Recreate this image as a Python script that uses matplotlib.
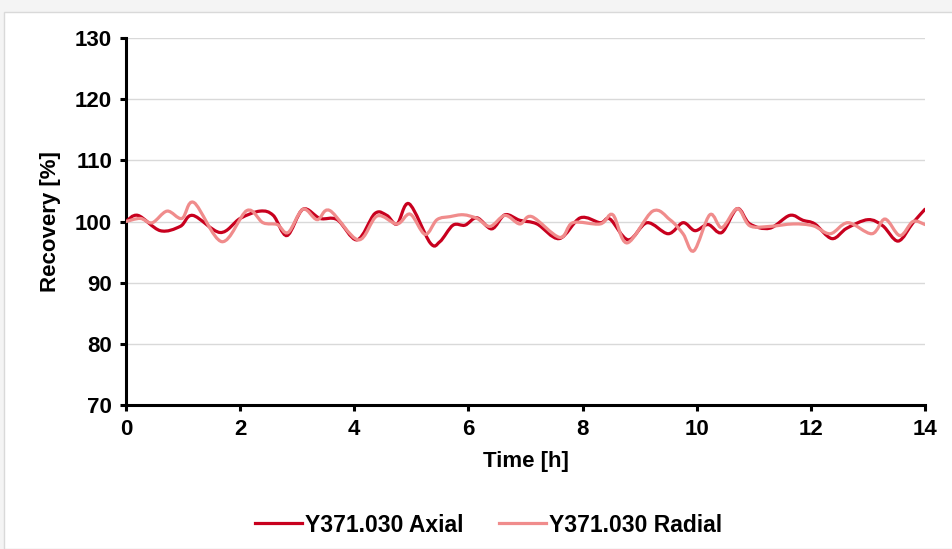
import numpy as np
import matplotlib.pyplot as plt
from matplotlib.path import Path
from matplotlib.patches import PathPatch, Rectangle
from matplotlib.lines import Line2D

plt.rcParams['font.family'] = ['Liberation Sans', 'DejaVu Sans']
plt.rcParams['font.weight'] = 'bold'

# values (time in h, recovery in %)
axial_t = [0, 0.21, 0.60, 0.95, 1.17, 1.65, 2.00, 2.35, 2.58, 2.82, 3.10, 3.40, 3.70,
           4.05, 4.36, 4.57, 4.75, 4.96, 5.33, 5.50, 5.73, 5.94, 6.15, 6.41, 6.64,
           6.90, 7.20, 7.59, 7.96, 8.31, 8.48, 8.80, 9.13, 9.50, 9.76, 9.97, 10.20,
           10.44, 10.71, 10.93, 11.28, 11.63, 11.86, 12.07, 12.37, 12.63, 13.00,
           13.26, 13.53, 13.79, 14.0]
axial_v = [100.0, 101.0, 98.5, 99.2, 101.0, 98.2, 100.5, 101.7, 101.0, 97.7, 102.0, 100.5,
           100.3, 97.0, 101.3, 101.0, 99.6, 102.9, 96.5, 96.7, 99.4, 99.4, 100.6, 98.8,
           101.1, 100.2, 99.6, 97.2, 100.6, 99.8, 100.4, 97.0, 99.8, 98.0, 99.8, 98.5,
           99.5, 98.2, 102.1, 99.6, 98.9, 101.0, 100.2, 99.6, 97.2, 98.9, 100.3, 99.3,
           96.8, 99.8, 102.0]

radial_t = [0, 0.25, 0.46, 0.72, 0.98, 1.19, 1.68, 2.12, 2.40, 2.65, 2.84, 3.10, 3.35,
            3.57, 4.07, 4.40, 4.75, 4.98, 5.24, 5.45, 5.68, 5.91, 6.15, 6.38, 6.64,
            6.90, 7.11, 7.60, 7.83, 8.31, 8.53, 8.78, 9.23, 9.53, 9.76, 9.95, 10.23,
            10.44, 10.71, 10.93, 11.28, 11.69, 12.04, 12.34, 12.65, 13.07, 13.30,
            13.56, 13.79, 14.0]
radial_v = [100.0, 100.5, 99.8, 101.7, 100.5, 103.1, 96.7, 101.8, 99.8, 99.5, 98.2, 102.0,
            100.3, 101.8, 97.0, 100.9, 99.6, 101.2, 97.9, 100.3, 100.8, 101.1, 100.5,
            99.2, 101.0, 99.6, 100.8, 97.4, 99.8, 99.6, 101.1, 96.5, 101.7, 100.3, 98.0,
            95.2, 101.1, 99.0, 102.1, 99.3, 99.2, 99.6, 99.3, 98.0, 99.8, 98.0, 100.4,
            97.7, 100.0, 99.5]

labels = ['Y371.030 Axial', 'Y371.030 Radial']
colors = ['#C8001E', '#F08C8C']


def smooth_path(t, v):
    # Excel-style smoothed line: Catmull-Rom segments as cubic Bezier curves
    p = np.column_stack([t, v])
    verts = [p[0]]
    codes = [Path.MOVETO]
    n = len(p)
    for i in range(n - 1):
        p0 = p[i - 1] if i > 0 else p[i]
        p3 = p[i + 2] if i + 2 < n else p[i + 1]
        c1 = p[i] + (p[i + 1] - p0) / 6
        c2 = p[i + 1] - (p3 - p[i]) / 6
        verts += [c1, c2, p[i + 1]]
        codes += [Path.CURVE4] * 3
    return Path(verts, codes)


fig = plt.figure(figsize=(9.52, 5.49), dpi=100)
fig.patch.set_facecolor('#F4F4F4')
fig.patches.append(Rectangle((4 / 952, 0), 1.0, 1 - 12 / 549, transform=fig.transFigure,
                             facecolor='white', edgecolor='#D9D9D9', linewidth=1, zorder=-5))

ax = fig.add_axes([126 / 952, 1 - 405 / 549, 799 / 952, 367 / 549])
ax.set_facecolor('none')

for t, v, c in [(axial_t, axial_v, colors[0]), (radial_t, radial_v, colors[1])]:
    ax.add_patch(PathPatch(smooth_path(t, v), facecolor='none', edgecolor=c,
                           linewidth=2.3, capstyle='round', zorder=3))

ax.set_xlim(0, 14)
ax.set_ylim(70, 130)
ax.set_xticks(range(0, 15, 2))
ax.set_yticks(range(70, 131, 10))
ax.yaxis.grid(True, color='#D9D9D9', linewidth=1)
ax.set_axisbelow(True)

for s in ['top', 'right']:
    ax.spines[s].set_visible(False)
for s in ['left', 'bottom']:
    ax.spines[s].set_linewidth(2.2)
ax.tick_params(axis='both', direction='out', length=4, width=2.2, labelsize=16, pad=6)

ax.set_xlabel('Time [h]', fontsize=16, fontweight='bold', labelpad=8)
ax.set_ylabel('Recovery [%]', fontsize=16, fontweight='bold', labelpad=10)

handles = [Line2D([], [], color=c, linewidth=2.3) for c in colors]
fig.legend(handles, labels, loc='center', bbox_to_anchor=(488.5 / 952, 1 - 525 / 549),
           ncol=2, frameon=False, fontsize=16.5, handlelength=2.05, handletextpad=0.13,
           columnspacing=1.57)

fig.savefig('out.png', dpi=100, facecolor=fig.get_facecolor())
